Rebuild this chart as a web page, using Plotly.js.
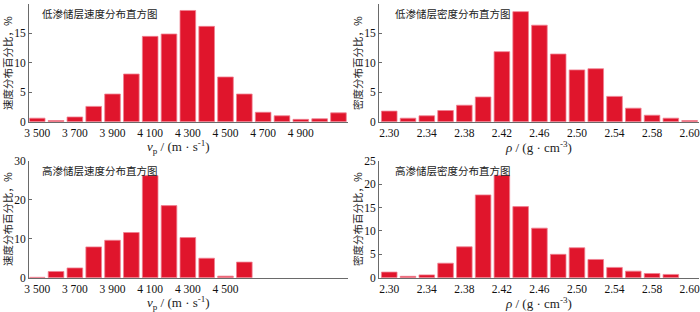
<!DOCTYPE html>
<html>
<head>
<meta charset="utf-8">
<script src="https://cdn.plot.ly/plotly-3.0.1.min.js"></script>
<style>html,body{margin:0;padding:0;background:#fff;}#chart{width:700px;height:312px;}</style>
</head>
<body>
<div id="chart"></div>
<script>
// ---- data ----
const velocityBinsLow = [3500,3600,3700,3800,3900,4000,4100,4200,4300,4400,4500,4600,4700,4800,4900,5000,5100];
const lowVelocityPct = [0.6,0.2,0.8,2.6,4.7,8.1,14.5,14.9,18.9,16.2,7.6,4.7,1.6,1.0,0.4,0.5,1.5];
const velocityBinsHigh = [3500,3600,3700,3800,3900,4000,4100,4200,4300,4400,4500,4600];
const highVelocityPct = [0.1,1.6,2.5,7.9,9.6,11.6,26.2,18.5,10.3,5.0,0.4,4.0];
const densityBinsLow = [2.30,2.32,2.34,2.36,2.38,2.40,2.42,2.44,2.46,2.48,2.50,2.52,2.54,2.56,2.58,2.60,2.62];
const lowDensityPct = [1.8,0.6,1.0,1.9,2.8,4.2,11.9,18.7,16.4,11.5,8.8,9.0,4.3,2.3,1.1,0.6,0.2];
const densityBinsHigh = [2.30,2.32,2.34,2.36,2.38,2.40,2.42,2.44,2.46,2.48,2.50,2.52,2.54,2.56,2.58,2.60];
const highDensityPct = [1.2,0.3,0.6,3.1,6.6,17.7,21.9,15.2,10.6,5.0,6.4,3.9,2.2,1.4,0.9,0.7];

const velTickValsLow = [3500,3700,3900,4100,4300,4500,4700,4900];
const velTickTextLow = ['3 500','3 700','3 900','4 100','4 300','4 500','4 700','4 900'];
const velTickValsHigh = [3500,3700,3900,4100,4300,4500];
const velTickTextHigh = ['3 500','3 700','3 900','4 100','4 300','4 500'];
const denTickVals = [2.30,2.34,2.38,2.42,2.46,2.50,2.54,2.58,2.62];
const denTickText = ['2.30','2.34','2.38','2.42','2.46','2.50','2.54','2.58','2.60'];

const panelTitles = ['低渗储层速度分布直方图','低渗储层密度分布直方图','高渗储层速度分布直方图','高渗储层密度分布直方图'];
const velYTitle = '速度分布百分比，%';
const denYTitle = '密度分布百分比，%';
const velXTitle = '<i>v</i><sub>p</sub> / (m · s<sup>-1</sup>)';
const denXTitle = '<i>ρ</i> / (g · cm<sup>-3</sup>)';

// ---- styling ----
const barColor = '#E0152C';
const edgeColor = '#F08090';
const serif = 'Liberation Serif, Times New Roman, serif';
const cjk = 'Noto Sans CJK SC, sans-serif';
const axisColor = '#6a6a6a';

function bar(x, y, xa, ya) {
  return {type:'bar', x:x, y:y, xaxis:xa, yaxis:ya,
    marker:{color:barColor, line:{color:edgeColor, width:0.8}},
    hoverinfo:'x+y', showlegend:false};
}

const data = [
  bar(velocityBinsLow, lowVelocityPct, 'x', 'y'),
  bar(densityBinsLow, lowDensityPct, 'x2', 'y2'),
  bar(velocityBinsHigh, highVelocityPct, 'x3', 'y3'),
  bar(densityBinsHigh, highDensityPct, 'x4', 'y4')
];

const W = 700, H = 312;
const leftDom = [29.3/W, 347.5/W];
const rightDom = [379.3/W, 699/W];
const topDom = [(H-121.7)/H, (H-4)/H];
const botDom = [(H-277.7)/H, (H-160.8)/H];

function xaxis(dom, anchor, range, tv, tt) {
  return {domain:dom, anchor:anchor, range:range, tickmode:'array', tickvals:tv, ticktext:tt,
    showline:true, linecolor:axisColor, linewidth:1.2, ticks:'', showgrid:false, zeroline:false,
    tickfont:{family:serif, size:11.5, color:'#111'}, fixedrange:true};
}
function yaxis(dom, anchor, range, dtick) {
  return {domain:dom, anchor:anchor, range:range, dtick:dtick, tick0:0,
    showline:true, linecolor:axisColor, linewidth:1.2, ticks:'inside', ticklen:3, tickcolor:axisColor,
    showgrid:false, zeroline:false, tickfont:{family:serif, size:11.5, color:'#111'}, fixedrange:true};
}

const velRange = [3458, 5148];
const denRange = [2.2894, 2.630];

const annotations = [];
function addText(text, x, y, opts) {
  annotations.push(Object.assign({text:text, xref:'paper', yref:'paper', x:x/W, y:(H-y)/H,
    showarrow:false, xanchor:'center', yanchor:'middle'}, opts));
}
const titleFont = {family:cjk, size:10.5, color:'#222'};
const yTitleFont = {family:cjk, size:10.5, color:'#222'};
const xTitleFont = {family:serif, size:13, color:'#222'};
// inset titles
addText(panelTitles[0], 40, 14, {xanchor:'left', font:titleFont});
addText(panelTitles[1], 393, 14, {xanchor:'left', font:titleFont});
addText(panelTitles[2], 40, 170, {xanchor:'left', font:titleFont});
addText(panelTitles[3], 393, 170, {xanchor:'left', font:titleFont});
// y titles
addText(velYTitle, 8, 63, {textangle:-90, font:yTitleFont});
addText(denYTitle, 358, 63, {textangle:-90, font:yTitleFont});
addText(velYTitle, 8, 219, {textangle:-90, font:yTitleFont});
addText(denYTitle, 358, 219, {textangle:-90, font:yTitleFont});
// x titles
addText(velXTitle, 178, 147, {font:xTitleFont});
addText(denXTitle, 538, 147, {font:xTitleFont});
addText(velXTitle, 178, 303, {font:xTitleFont});
addText(denXTitle, 538, 303, {font:xTitleFont});

const layout = {
  width:W, height:H, margin:{l:0, r:0, t:0, b:0},
  paper_bgcolor:'#fff', plot_bgcolor:'#fff', bargap:0.17, showlegend:false,
  xaxis: xaxis(leftDom, 'y', velRange, velTickValsLow, velTickTextLow),
  yaxis: yaxis(topDom, 'x', [0,20], 5),
  xaxis2: xaxis(rightDom, 'y2', denRange, denTickVals, denTickText),
  yaxis2: yaxis(topDom, 'x2', [0,20], 5),
  xaxis3: xaxis(leftDom, 'y3', velRange, velTickValsHigh, velTickTextHigh),
  yaxis3: yaxis(botDom, 'x3', [0,30], 10),
  xaxis4: xaxis(rightDom, 'y4', denRange, denTickVals, denTickText),
  yaxis4: yaxis(botDom, 'x4', [0,25], 5),
  annotations: annotations
};

Plotly.newPlot('chart', data, layout, {displayModeBar:false, staticPlot:true});
</script>
</body>
</html>
